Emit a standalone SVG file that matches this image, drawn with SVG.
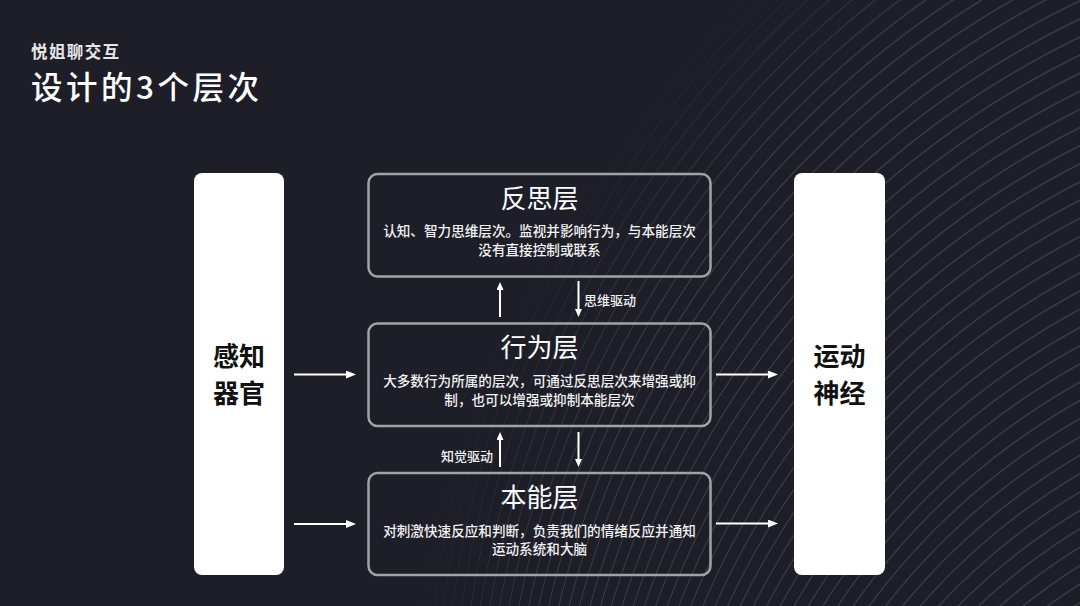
<svg xmlns="http://www.w3.org/2000/svg" width="1080" height="606" viewBox="0 0 1080 606">
<defs>
<style>
.cn{font-family:"Noto Sans CJK SC","Noto Sans",sans-serif;}
.layer{fill:none;stroke:#a3a3a6;stroke-width:2.5;}
.side{fill:#ffffff;}
.ttl{font-size:26px;fill:#ffffff;text-anchor:middle;}
.desc{font-size:13.6px;fill:#f2f2f2;text-anchor:middle;font-weight:500;}
.stxt{font-size:26px;fill:#111111;text-anchor:middle;font-weight:700;}
.lbl{font-size:13px;fill:#f2f2f2;font-weight:500;}
.conn{stroke:#ffffff;stroke-width:2;fill:none;}
</style>
<marker id="ah" viewBox="0 0 10 8" refX="4" refY="4" markerWidth="10" markerHeight="8" orient="auto" markerUnits="userSpaceOnUse">
<path d="M0,0 L10,4 L0,8 z" fill="#ffffff"/>
</marker>
<marker id="ahs" viewBox="0 0 8 7" refX="2" refY="3.5" markerWidth="8" markerHeight="7" orient="auto" markerUnits="userSpaceOnUse">
<path d="M0,0 L8,3.5 L0,7 z" fill="#ffffff"/>
</marker>
<radialGradient id="rings" gradientUnits="userSpaceOnUse" cx="1242.86" cy="1452.74" r="11" fx="1240" fy="1460" spreadMethod="repeat">
<stop offset="0" stop-color="#ffffff" stop-opacity="0"/>
<stop offset="0.83" stop-color="#ffffff" stop-opacity="0"/>
<stop offset="0.91" stop-color="#ffffff" stop-opacity="0.15"/>
<stop offset="1" stop-color="#ffffff" stop-opacity="0"/>
</radialGradient>
<radialGradient id="fadeG" gradientUnits="userSpaceOnUse" cx="1500" cy="800" r="1150">
<stop offset="0" stop-color="#ffffff"/>
<stop offset="0.84" stop-color="#ffffff"/>
<stop offset="0.97" stop-color="#000000"/>
<stop offset="1" stop-color="#000000"/>
</radialGradient>
<mask id="fade" maskUnits="userSpaceOnUse" x="0" y="0" width="1080" height="606">
<rect width="1080" height="606" fill="url(#fadeG)"/>
</mask>
</defs>
<rect id="bg" width="1080" height="606" fill="#1e1e28"/>
<rect id="arcs" width="1080" height="606" fill="url(#rings)" mask="url(#fade)"/>

<g id="header" class="cn">
<text x="31" y="58" font-size="16.5" font-weight="700" fill="#e6e6e6" textLength="88" lengthAdjust="spacing">悦姐聊交互</text>
<text x="31" y="98.5" font-size="31.5" font-weight="500" fill="#ffffff" textLength="228" lengthAdjust="spacing">设计的3个层次</text>
</g>

<g id="node-sense" class="cn">
<rect class="side" x="194" y="173" width="90" height="402" rx="8"/>
<text class="stxt" x="239" y="366">感知</text>
<text class="stxt" x="239" y="403">器官</text>
</g>

<g id="node-motor" class="cn">
<rect class="side" x="794" y="173" width="91" height="402" rx="8"/>
<text class="stxt" x="839.5" y="366">运动</text>
<text class="stxt" x="839.5" y="403">神经</text>
</g>

<g id="node-reflective" class="cn">
<rect class="layer" x="368.5" y="174" width="342" height="102.5" rx="9"/>
<text class="ttl" x="539.5" y="208">反思层</text>
<text class="desc" x="539.5" y="235.5">认知、智力思维层次。监视并影响行为，与本能层次</text>
<text class="desc" x="539.5" y="254.5">没有直接控制或联系</text>
</g>

<g id="node-behavior" class="cn">
<rect class="layer" x="368.5" y="323.5" width="342" height="102.5" rx="9"/>
<text class="ttl" x="539.5" y="357">行为层</text>
<text class="desc" x="539.5" y="386">大多数行为所属的层次，可通过反思层次来增强或抑</text>
<text class="desc" x="539.5" y="404.5">制，也可以增强或抑制本能层次</text>
</g>

<g id="node-visceral" class="cn">
<rect class="layer" x="368.5" y="473" width="342" height="102" rx="9"/>
<text class="ttl" x="539.5" y="507">本能层</text>
<text class="desc" x="539.5" y="535.5">对刺激快速反应和判断，负责我们的情绪反应并通知</text>
<text class="desc" x="539.5" y="554">运动系统和大脑</text>
</g>

<g id="connectors">
<line class="conn" x1="294" y1="374.5" x2="350" y2="374.5" marker-end="url(#ah)"/>
<line class="conn" x1="294" y1="524" x2="350" y2="524" marker-end="url(#ah)"/>
<line class="conn" x1="716" y1="374.5" x2="772" y2="374.5" marker-end="url(#ah)"/>
<line class="conn" x1="716" y1="523.5" x2="772" y2="523.5" marker-end="url(#ah)"/>
<line class="conn" x1="500" y1="317" x2="500" y2="288" marker-end="url(#ahs)"/>
<line class="conn" x1="578.5" y1="281" x2="578.5" y2="311" marker-end="url(#ahs)"/>
<line class="conn" x1="500" y1="467" x2="500" y2="438" marker-end="url(#ahs)"/>
<line class="conn" x1="578.5" y1="432" x2="578.5" y2="461" marker-end="url(#ahs)"/>
<text class="cn lbl" x="584" y="304.5">思维驱动</text>
<text class="cn lbl" x="493" y="461" text-anchor="end">知觉驱动</text>
</g>
</svg>
